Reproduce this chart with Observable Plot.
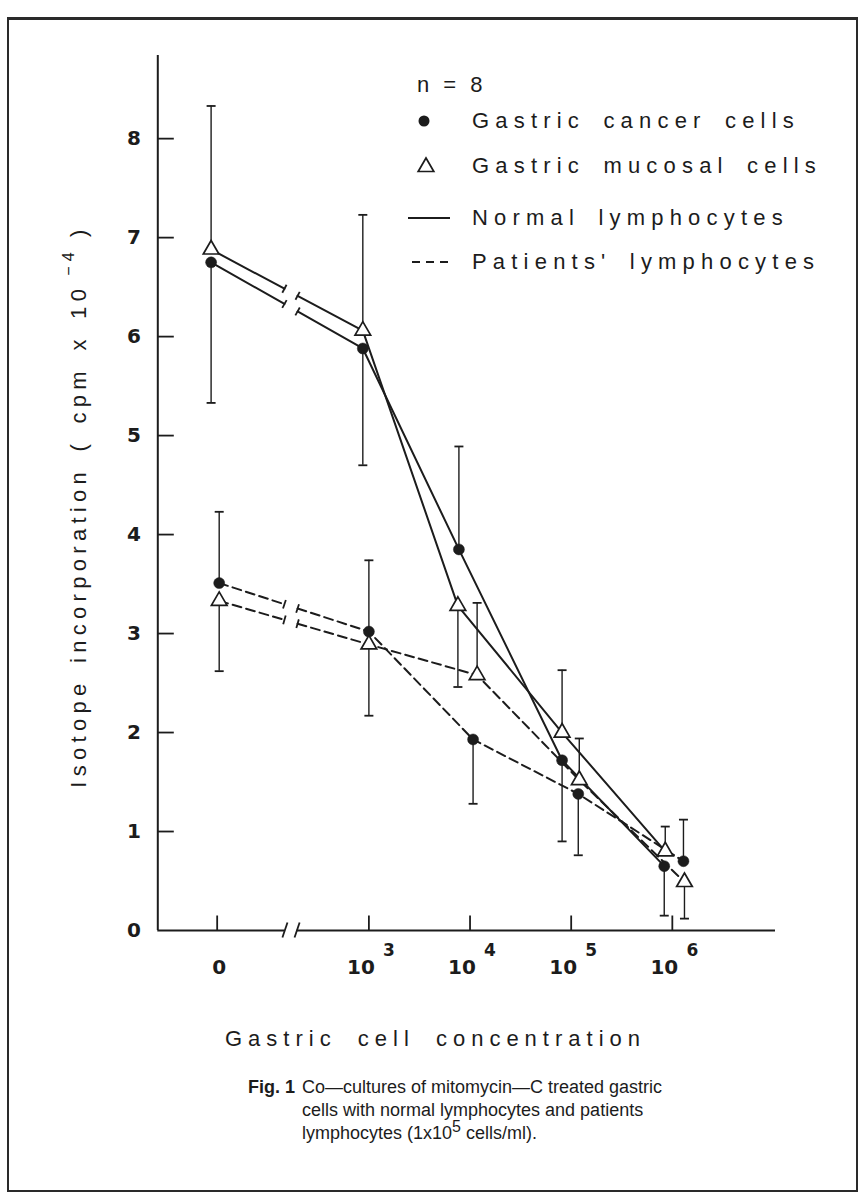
<!DOCTYPE html>
<html><head><meta charset="utf-8">
<script src="https://cdn.jsdelivr.net/npm/d3@7"></script>
<script src="https://cdn.jsdelivr.net/npm/@observablehq/plot@0.6"></script>
<style>
html,body{margin:0;padding:0;background:#fff;}
#wrap{position:relative;width:865px;height:1203px;overflow:hidden;font-family:"Liberation Sans",Arial,sans-serif;color:#1c1c1c;}
#frame{position:absolute;left:7px;top:17px;width:847px;height:1170px;border:2px solid #2a2a2a;border-top-width:3px;}
#chart{position:absolute;left:0;top:0;}
#ytitle{position:absolute;left:78px;top:506px;transform:translate(-50%,-50%) rotate(-90deg);white-space:nowrap;font-size:22px;letter-spacing:5.3px;word-spacing:4px;}
#ytitle sup{font-size:16px;position:relative;top:-4px;vertical-align:super;margin-left:8px;margin-right:10px;}
#xtitle{position:absolute;left:225px;top:1026px;white-space:nowrap;font-size:22px;letter-spacing:6px;word-spacing:9px;}
.leg{position:absolute;white-space:nowrap;font-size:22px;letter-spacing:6.2px;word-spacing:6px;line-height:24px;}
.leg.n{letter-spacing:4px;word-spacing:0;}
.legsym{position:absolute;}
#caption{position:absolute;left:248px;top:1076px;font-size:18px;line-height:23px;}
#caption .fig{position:absolute;left:0;top:0;font-weight:bold;white-space:nowrap;}
#caption .txt{position:absolute;left:54px;top:0;white-space:nowrap;}
#caption .sp{font-size:16px;position:relative;top:-7px;line-height:0;}
</style></head><body>
<div id="wrap">
  <div id="frame"></div>
  <div id="chart"></div>
  <div id="ytitle">Isotope incorporation ( cpm x 10<sup>−4</sup>)</div>
  <div id="legend"></div>
  <div id="xtitle">Gastric cell concentration</div>
  <div id="caption"><span class="fig">Fig. 1</span><span class="txt">Co—cultures of mitomycin—C treated gastric<br>cells with normal lymphocytes and patients<br>lymphocytes (1x10<span class="sp">5</span> cells/ml).</span></div>
</div>
<script>
// ---------- data ----------
// x positions are log10(concentration); the "0" group is drawn left of the axis break
const tickPos  = [1.5, 3, 4, 5, 6];
const tickBase = ["0", "10", "10", "10", "10"];
const tickExp  = ["", "3", "4", "5", "6"];
const yTicks   = [0, 1, 2, 3, 4, 5, 6, 7, 8];
const axisBreak = 2.23;

const cancerNormalX   = [1.44, 2.94, 3.89, 4.91, 5.92];
const cancerNormalY   = [6.75, 5.88, 3.85, 1.72, 0.65];
const cancerNormalErr = [5.33, 4.70, 4.89, 0.90, 0.15];

const mucosalNormalX   = [1.44, 2.94, 3.88, 4.91, 5.93];
const mucosalNormalY   = [6.88, 6.06, 3.28, 2.00, 0.80];
const mucosalNormalErr = [8.33, 7.23, 2.46, 2.63, 1.05];

const cancerPatientX   = [1.52, 3.00, 4.03, 5.07, 6.11];
const cancerPatientY   = [3.51, 3.02, 1.93, 1.38, 0.70];
const cancerPatientErr = [4.23, 3.74, 1.28, 0.76, 1.12];

const mucosalPatientX   = [1.52, 3.00, 4.07, 5.08, 6.12];
const mucosalPatientY   = [3.33, 2.89, 2.58, 1.52, 0.49];
const mucosalPatientErr = [2.62, 2.17, 3.31, 1.94, 0.12];

const nLabel = "n = 8";
const cellLabels  = ["Gastric cancer cells", "Gastric mucosal cells"];
const lymphLabels = ["Normal lymphocytes", "Patients' lymphocytes"];

// ---------- layout ----------
const W = 865, H = 1000;
const mL = 157.3, mR = 90, mT = 55, mB = 70;
const xDom = [0.913, 7.02], yDom = [0, 8.84];
const kx = (W - mL - mR) / (xDom[1] - xDom[0]);
const ky = (H - mT - mB) / (yDom[1] - yDom[0]);
const ink = "#1c1c1c";
const dashLine = "9,5", dashBar = "6,4";

const series = [
  {cells: "cancer",  lymph: "normal",  X: cancerNormalX,   Y: cancerNormalY,   E: cancerNormalErr},
  {cells: "mucosal", lymph: "normal",  X: mucosalNormalX,  Y: mucosalNormalY,  E: mucosalNormalErr},
  {cells: "cancer",  lymph: "patient", X: cancerPatientX,  Y: cancerPatientY,  E: cancerPatientErr},
  {cells: "mucosal", lymph: "patient", X: mucosalPatientX, Y: mucosalPatientY, E: mucosalPatientErr}
];
const rows = series.flatMap((s, si) => s.X.map((x, i) => ({si, cells: s.cells, lymph: s.lymph, i, x, y: s.Y[i], e: s.E[i]})));

// line pieces with a break between the "0" group and 10^3
const gap = 0.065;
const pieces = [], breakTicks = [];
series.forEach((s, si) => {
  const x0 = s.X[0], y0 = s.Y[0], x1 = s.X[1], y1 = s.Y[1];
  const at = xx => y0 + (y1 - y0) * (xx - x0) / (x1 - x0);
  const xa = axisBreak - gap, xb = axisBreak + gap;
  pieces.push({lymph: s.lymph, pts: [[x0, y0], [xa, at(xa)]]});
  pieces.push({lymph: s.lymph, pts: [[xb, at(xb)], ...s.X.slice(1).map((x, i) => [x, s.Y[i + 1]])]});
  // perpendicular break marks (screen space)
  const dxp = (x1 - x0) * kx, dyp = -(y1 - y0) * ky, len = Math.hypot(dxp, dyp);
  const ux = -dyp / len, uy = dxp / len, h = 4.5;
  for (const xx of [xa, xb]) {
    const yy = at(xx);
    breakTicks.push({lymph: s.lymph, x1: xx + ux * h / kx, y1: yy - uy * h / ky, x2: xx - ux * h / kx, y2: yy + uy * h / ky});
  }
});
const lineRows = pieces.flatMap((p, pi) => p.pts.map(([x, y]) => ({pi, lymph: p.lymph, x, y})));

const capW = 4.5 / kx;
const tickRows = tickPos.map((p, i) => ({p, base: tickBase[i], exp: tickExp[i]}));

const bl = axisBreak - 0.06, br = axisBreak + 0.06;
const xAxisSegs = [{a: xDom[0], b: bl}, {a: br, b: xDom[1]}];
const slashes = [bl, br].map(c => ({x1: c - 0.025, y1: -7 / ky, x2: c + 0.025, y2: 8 / ky}));

const tickFont = {fontFamily: "DejaVu Sans", fontWeight: "bold", fontSize: 20, fill: ink};

const chart = Plot.plot({
  width: W, height: H,
  marginLeft: mL, marginRight: mR, marginTop: mT, marginBottom: mB,
  x: {domain: xDom, axis: null},
  y: {domain: yDom, axis: null},
  style: {background: "transparent", overflow: "visible"},
  marks: [
    // axes
    Plot.ruleX([xDom[0]], {y1: yDom[0], y2: yDom[1], stroke: ink, strokeWidth: 2}),
    Plot.ruleY(xAxisSegs, {y: 0, x1: "a", x2: "b", stroke: ink, strokeWidth: 2}),
    Plot.link(slashes, {x1: "x1", y1: "y1", x2: "x2", y2: "y2", stroke: ink, strokeWidth: 1.8}),
    Plot.link(yTicks.filter(d => d > 0), {x1: xDom[0], x2: xDom[0] + 16 / kx, y1: d => d, y2: d => d, stroke: ink, strokeWidth: 1.8}),
    Plot.link(tickRows, {x1: "p", x2: "p", y1: 0, y2: 15 / ky, stroke: ink, strokeWidth: 1.8}),
    Plot.text(yTicks, {x: xDom[0], y: d => d, text: d => String(d), dx: -17, textAnchor: "end", ...tickFont}),
    Plot.text(tickRows.filter(d => !d.exp), {x: "p", y: 0, text: "base", dx: 2, dy: 37, ...tickFont}),
    Plot.text(tickRows.filter(d => d.exp), {x: "p", y: 0, text: "base", dx: -8, dy: 37, letterSpacing: 3, ...tickFont}),
    Plot.text(tickRows.filter(d => d.exp), {x: "p", y: 0, text: "exp", dx: 20, dy: 20, ...tickFont, fontSize: 17}),
    // error bars
    Plot.ruleX(rows, {x: "x", y1: "y", y2: "e", stroke: ink, strokeWidth: 1.4,
      strokeDasharray: d => d.lymph === "patient" ? dashBar : null}),
    Plot.link(rows, {x1: d => d.x - capW, x2: d => d.x + capW, y1: "e", y2: "e", stroke: ink, strokeWidth: 1.8}),
    // lines
    Plot.line(lineRows.filter(d => d.lymph === "normal"), {x: "x", y: "y", z: "pi", stroke: ink, strokeWidth: 2, curve: "linear"}),
    Plot.line(lineRows.filter(d => d.lymph === "patient"), {x: "x", y: "y", z: "pi", stroke: ink, strokeWidth: 2, strokeDasharray: dashLine, curve: "linear"}),
    Plot.link(breakTicks, {x1: "x1", y1: "y1", x2: "x2", y2: "y2", stroke: ink, strokeWidth: 1.8}),
    // markers
    Plot.dot(rows.filter(d => d.cells === "cancer"), {x: "x", y: "y", r: 5.5, fill: ink, stroke: ink, strokeWidth: 0.5}),
    Plot.dot(rows.filter(d => d.cells === "mucosal"), {x: "x", y: "y", r: 5.8, symbol: "triangle", fill: "white", stroke: ink, strokeWidth: 1.7})
  ]
});
document.getElementById("chart").appendChild(chart);

// ---------- legend (overlaid, upper right) ----------
const leg = document.getElementById("legend");
const legendRows = [
  {label: nLabel, sym: null, y: 85},
  {label: cellLabels[0], sym: "circle", y: 121},
  {label: cellLabels[1], sym: "triangle", y: 166},
  {label: lymphLabels[0], sym: "solid", y: 218},
  {label: lymphLabels[1], sym: "dashed", y: 262}
];
legendRows.forEach(r => {
  const t = document.createElement("div");
  t.className = r.sym ? "leg" : "leg n";
  t.textContent = r.label;
  t.style.left = (r.sym ? 472 : 417) + "px";
  t.style.top = (r.y - 12) + "px";
  leg.appendChild(t);
  if (r.sym) {
    const ns = "http://www.w3.org/2000/svg";
    const s = document.createElementNS(ns, "svg");
    s.setAttribute("width", 60); s.setAttribute("height", 20);
    s.setAttribute("class", "legsym");
    s.style.left = "400px"; s.style.top = (r.y - 10) + "px";
    let el;
    if (r.sym === "circle") {
      el = document.createElementNS(ns, "circle");
      el.setAttribute("cx", 24); el.setAttribute("cy", 10); el.setAttribute("r", 5.5); el.setAttribute("fill", ink);
    } else if (r.sym === "triangle") {
      el = document.createElementNS(ns, "path");
      el.setAttribute("d", d3.symbol(d3.symbolTriangle, Math.PI * 5.8 * 5.8)());
      el.setAttribute("transform", "translate(26,11)");
      el.setAttribute("fill", "white"); el.setAttribute("stroke", ink); el.setAttribute("stroke-width", 1.7);
    } else {
      el = document.createElementNS(ns, "line");
      el.setAttribute("x1", 8); el.setAttribute("x2", 50); el.setAttribute("y1", 10); el.setAttribute("y2", 10);
      el.setAttribute("stroke", ink); el.setAttribute("stroke-width", 2);
      if (r.sym === "dashed") { el.setAttribute("x1", 12); el.setAttribute("x2", 50); el.setAttribute("stroke-dasharray", "8,6"); }
    }
    s.appendChild(el);
    leg.appendChild(s);
  }
});
</script>
</body></html>
